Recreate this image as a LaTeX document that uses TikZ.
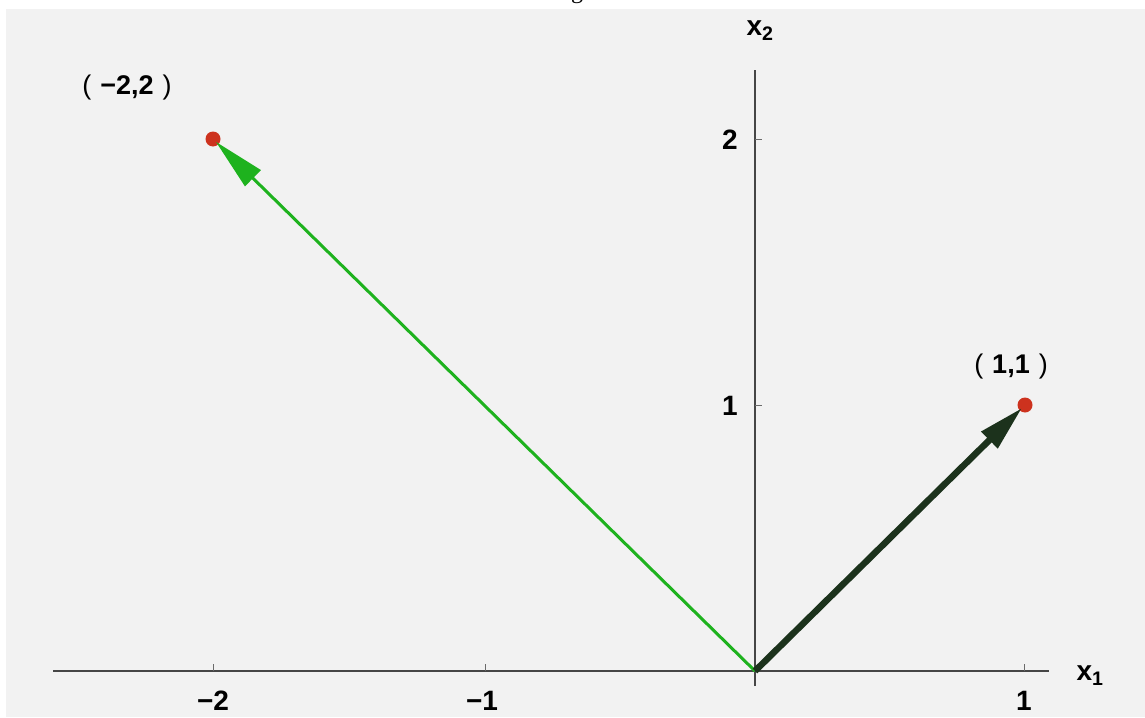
\documentclass[tikz,border=0pt]{standalone}
\usepackage{fontspec}
\setmainfont{Liberation Sans}
\newfontfamily\titlefont{Liberation Serif}
\usetikzlibrary{arrows.meta}
\definecolor{bg}{RGB}{242,242,242}
\definecolor{axisgray}{RGB}{70,70,70}
\definecolor{vgreen}{RGB}{30,178,30}
\definecolor{vdark}{RGB}{28,50,28}
\definecolor{dotred}{RGB}{205,50,30}
\tikzset{
  axisline/.style={draw=axisgray, line width=1.3pt},
  tickline/.style={draw=axisgray!80, line width=1pt},
  ticklabel/.style={font=\fontsize{28}{30}\selectfont\bfseries, inner sep=0pt},
  ptlabel/.style={font=\fontsize{27}{30}\selectfont, inner sep=0pt},
  dot/.style={circle, fill=dotred, minimum size=15pt, inner sep=0pt},
  vecgreen/.style={draw=vgreen, line width=3pt, -{Triangle[length=52pt,width=22pt]}, shorten >=4pt},
  vecdark/.style={draw=vdark, line width=6.5pt, -{Triangle[length=46pt,width=22pt]}, shorten >=4pt},
}
\begin{document}
\begin{tikzpicture}[x=1pt,y=-1pt]
\useasboundingbox (0,0) rectangle (1145,717);
\fill[white] (0,0) rectangle (1145,717);
\fill[bg] (6,9) rectangle (1145,717);
% cut-off title
\begin{scope}
\clip (0,0) rectangle (1145,9);
\node[anchor=base, inner sep=0pt, font=\titlefont\fontsize{24}{28}\selectfont] (title) at (577,-1) {g};
\end{scope}
% axes
\coordinate (O) at (755,671);
\coordinate (xl) at (53,671);
\coordinate (xr) at (1049,671);
\coordinate (yb) at (755,686);
\coordinate (yt) at (755,70);
\draw[axisline] (xl) -- (xr);
\draw[axisline] (yb) -- (yt);
% ticks
\coordinate (tm2) at (213,671);
\coordinate (tm1) at (485,671);
\coordinate (tp1) at (1024,671);
\coordinate (ty1) at (755,405);
\coordinate (ty2) at (755,139);
\draw[tickline] (tm2) -- ++(0,-7);
\draw[tickline] (tm1) -- ++(0,-7);
\draw[tickline] (tp1) -- ++(0,-7);
\draw[tickline] (ty1) -- ++(7,0);
\draw[tickline] (ty2) -- ++(7,0);
% tick labels
\node[ticklabel] (lm2) at (213,701) {−2};
\node[ticklabel] (lm1) at (482,701) {−1};
\node[ticklabel] (lp1) at (1024,701) {1};
\node[ticklabel] (ly1) at (730,406) {1};
\node[ticklabel] (ly2) at (730,140) {2};
\node[ticklabel] (ax1) at (1090,676) {x\textsubscript{1}};
\node[ticklabel] (ax2) at (760,31) {x\textsubscript{2}};
% points
\node[dot] (P) at (213,139) {};
\node[dot] (Q) at (1025,405) {};
% vectors
\draw[vecgreen] (O) -- (P.center);
\draw[vecdark] (O) -- (Q.center);
% point labels
\node[ptlabel] (Plab) at (127,88) {(\hspace{9pt}\textbf{−2,2}\hspace{9pt})};
\node[ptlabel] (Qlab) at (1011,367) {(\hspace{9pt}\textbf{1,1}\hspace{9pt})};
\end{tikzpicture}
\end{document}
